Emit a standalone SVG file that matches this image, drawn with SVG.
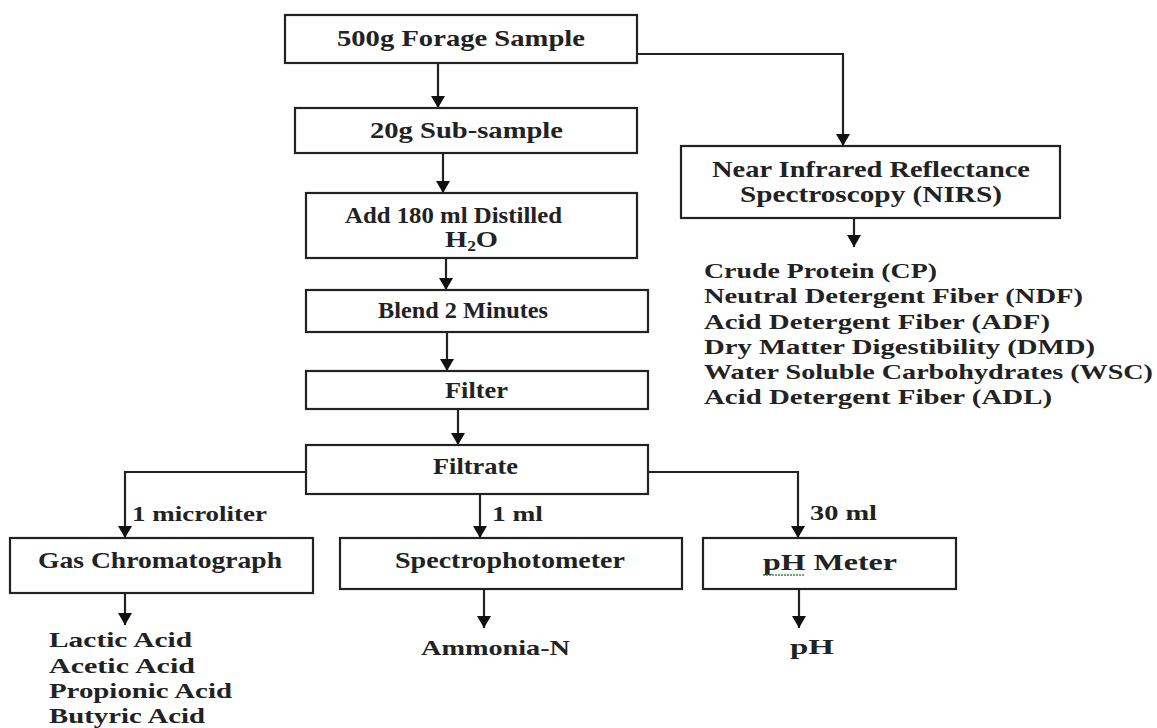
<svg xmlns="http://www.w3.org/2000/svg" width="1157" height="728" viewBox="0 0 1157 728">
<style>
.box{fill:#fff;stroke:#222;stroke-width:2.2}
.c{fill:none;stroke:#222;stroke-width:2.2}
text{font-family:"Liberation Serif","Times New Roman",serif;font-weight:bold;fill:#222}
.b{font-size:23px}
.l{font-size:22px}
</style>
<defs>
<marker id="ah" markerUnits="userSpaceOnUse" markerWidth="12" markerHeight="14" viewBox="0 0 12 14" refX="12" refY="7" orient="auto">
<path d="M0,0 L12,7 L0,14 z" fill="#111"/>
</marker>
</defs>
<rect width="1157" height="728" fill="#fff"/>
<g id="connectors">
<path class="c" d="M438,63 V108" marker-end="url(#ah)"/>
<path class="c" d="M637,54 H843 V146" marker-end="url(#ah)"/>
<path class="c" d="M443,153 V193" marker-end="url(#ah)"/>
<path class="c" d="M446,258 V290" marker-end="url(#ah)"/>
<path class="c" d="M447,332 V371" marker-end="url(#ah)"/>
<path class="c" d="M458,409 V445" marker-end="url(#ah)"/>
<path class="c" d="M306,472 H125 V538" marker-end="url(#ah)"/>
<path class="c" d="M480,494 V538" marker-end="url(#ah)"/>
<path class="c" d="M648,472 H798 V538" marker-end="url(#ah)"/>
<path class="c" d="M854,218 V247" marker-end="url(#ah)"/>
<path class="c" d="M125,593 V625" marker-end="url(#ah)"/>
<path class="c" d="M484,589 V628" marker-end="url(#ah)"/>
<path class="c" d="M799,589 V628" marker-end="url(#ah)"/>
<text class="l" x="132" y="521" textLength="135" lengthAdjust="spacingAndGlyphs">1 microliter</text>
<text class="l" x="492" y="521" textLength="51" lengthAdjust="spacingAndGlyphs">1 ml</text>
<text class="l" x="810" y="520" textLength="67" lengthAdjust="spacingAndGlyphs">30 ml</text>
</g>
<g id="forage">
<rect class="box" x="285" y="15" width="352" height="48"/>
<text class="b" x="337" y="46" textLength="248" lengthAdjust="spacingAndGlyphs">500g Forage Sample</text>
</g>
<g id="subsample">
<rect class="box" x="295" y="108" width="342" height="45"/>
<text class="b" x="370" y="138" textLength="193" lengthAdjust="spacingAndGlyphs">20g Sub-sample</text>
</g>
<g id="add-water">
<rect class="box" x="306" y="193" width="331" height="65"/>
<text class="b" x="345" y="223" textLength="217" lengthAdjust="spacingAndGlyphs">Add 180 ml Distilled</text>
<text class="b" x="445" y="247" textLength="53" lengthAdjust="spacingAndGlyphs">H<tspan font-size="14" dy="4">2</tspan><tspan dy="-4">O</tspan></text>
</g>
<g id="blend">
<rect class="box" x="306" y="290" width="342" height="42"/>
<text class="b" x="378" y="318" textLength="170" lengthAdjust="spacingAndGlyphs">Blend 2 Minutes</text>
</g>
<g id="filter">
<rect class="box" x="306" y="371" width="342" height="38"/>
<text class="b" x="445" y="398" textLength="63" lengthAdjust="spacingAndGlyphs">Filter</text>
</g>
<g id="filtrate">
<rect class="box" x="306" y="445" width="342" height="49"/>
<text class="b" x="433" y="474" textLength="85" lengthAdjust="spacingAndGlyphs">Filtrate</text>
</g>
<g id="nirs">
<rect class="box" x="681" y="146" width="379" height="72"/>
<text class="b" x="712" y="177" textLength="318" lengthAdjust="spacingAndGlyphs">Near Infrared Reflectance</text>
<text class="b" x="740" y="202" textLength="262" lengthAdjust="spacingAndGlyphs">Spectroscopy (NIRS)</text>
</g>
<g id="nirs-results">
<text class="l" x="704" y="278" textLength="233" lengthAdjust="spacingAndGlyphs">Crude Protein (CP)</text>
<text class="l" x="704" y="303" textLength="379" lengthAdjust="spacingAndGlyphs">Neutral Detergent Fiber (NDF)</text>
<text class="l" x="704" y="329" textLength="346" lengthAdjust="spacingAndGlyphs">Acid Detergent Fiber (ADF)</text>
<text class="l" x="704" y="354" textLength="391" lengthAdjust="spacingAndGlyphs">Dry Matter Digestibility (DMD)</text>
<text class="l" x="704" y="379" textLength="449" lengthAdjust="spacingAndGlyphs">Water Soluble Carbohydrates (WSC)</text>
<text class="l" x="704" y="404" textLength="348" lengthAdjust="spacingAndGlyphs">Acid Detergent Fiber (ADL)</text>
</g>
<g id="gas-chromatograph">
<rect class="box" x="10" y="538" width="303" height="55"/>
<text class="b" x="38" y="568" textLength="244" lengthAdjust="spacingAndGlyphs">Gas Chromatograph</text>
</g>
<g id="gc-results">
<text class="l" x="49" y="647" textLength="143" lengthAdjust="spacingAndGlyphs">Lactic Acid</text>
<text class="l" x="49" y="673" textLength="146" lengthAdjust="spacingAndGlyphs">Acetic Acid</text>
<text class="l" x="49" y="698" textLength="183" lengthAdjust="spacingAndGlyphs">Propionic Acid</text>
<text class="l" x="49" y="723" textLength="156" lengthAdjust="spacingAndGlyphs">Butyric Acid</text>
</g>
<g id="spectrophotometer">
<rect class="box" x="340" y="538" width="342" height="51"/>
<text class="b" x="395" y="568" textLength="230" lengthAdjust="spacingAndGlyphs">Spectrophotometer</text>
</g>
<g id="ammonia">
<text class="l" x="421" y="655" textLength="149" lengthAdjust="spacingAndGlyphs">Ammonia-N</text>
</g>
<g id="ph-meter">
<rect class="box" x="703" y="538" width="253" height="51"/>
<text class="b" x="763" y="570" textLength="134" lengthAdjust="spacingAndGlyphs">pH Meter</text>
<path d="M763,575 H805" stroke="#3a8a3a" stroke-width="1.3" stroke-dasharray="2,1" fill="none"/>
</g>
<g id="ph">
<text class="l" x="790" y="654" textLength="44" lengthAdjust="spacingAndGlyphs">pH</text>
</g>
</svg>
